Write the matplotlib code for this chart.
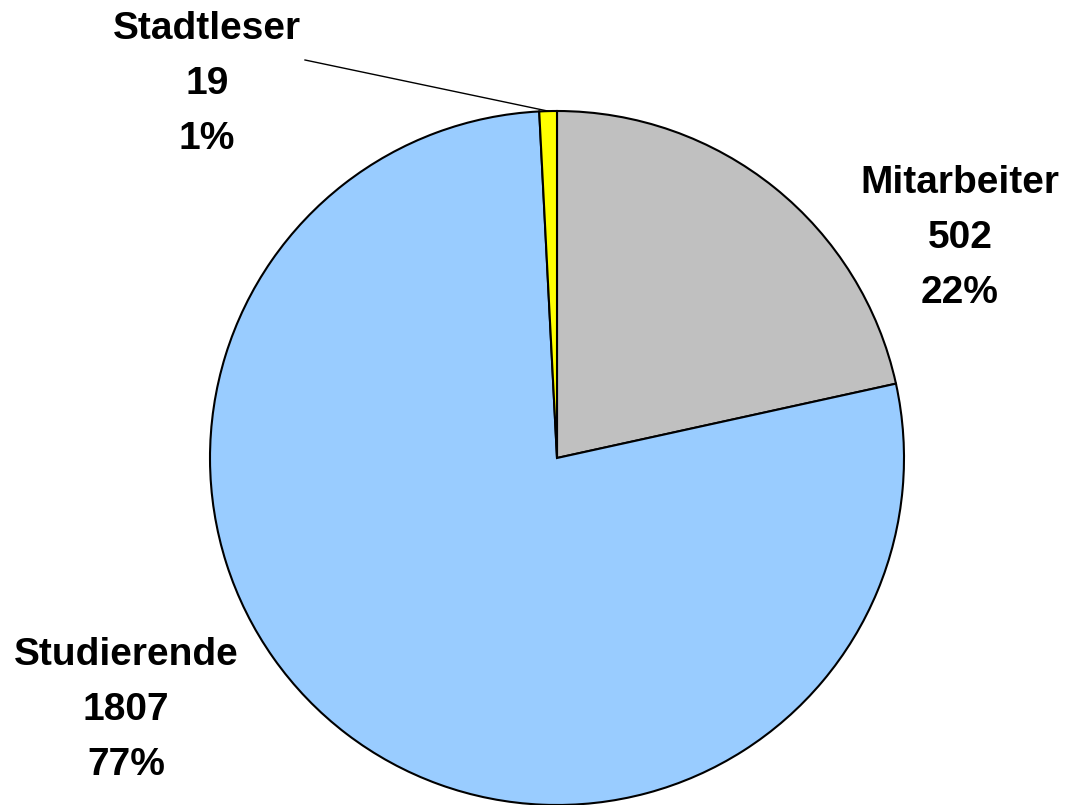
import numpy as np
import matplotlib.pyplot as plt
from matplotlib import font_manager

# data
categories = ['Mitarbeiter', 'Studierende', 'Stadtleser']
counts = [502, 1807, 19]
percent_labels = ['22%', '77%', '1%']
colors = ['#C0C0C0', '#99CCFF', '#FFFF00']

names = {f.name for f in font_manager.fontManager.ttflist}
fam = ['Liberation Sans Narrow', 'Liberation Sans', 'DejaVu Sans']
fam = [f for f in fam if f in names] or ['DejaVu Sans']

W, H = 1066, 805
fig = plt.figure(figsize=(W / 100, H / 100), dpi=100)
ax = fig.add_axes([0, 0, 1, 1])

cx, cy, r = 557, H - 458, 347
wedges, _ = ax.pie(counts, colors=colors, startangle=90, counterclock=False,
                   center=(cx, cy), radius=r, frame=True,
                   wedgeprops=dict(edgecolor='black', linewidth=1.5))
ax.set_xlim(0, W)
ax.set_ylim(0, H)
ax.set_aspect('equal')
ax.axis('off')

# label positions (x, y from top)
label_pos = {'Mitarbeiter': (960, 183), 'Studierende': (126, 655), 'Stadtleser': (207, 29)}
for name, n, pct in zip(categories, counts, percent_labels):
    x, y = label_pos[name]
    for i, t in enumerate([name, str(n), pct]):
        ax.text(x, H - (y + i * 55), t, ha='center', va='center',
                fontsize=28, fontweight='bold', family=fam)

# leader line for the small slice
w = wedges[2]
mid = np.deg2rad((w.theta1 + w.theta2) / 2)
ax.plot([305, cx + r * np.cos(mid)], [H - 60, cy + r * np.sin(mid)],
        color='black', linewidth=1)

fig.savefig('out.png', dpi=100)
